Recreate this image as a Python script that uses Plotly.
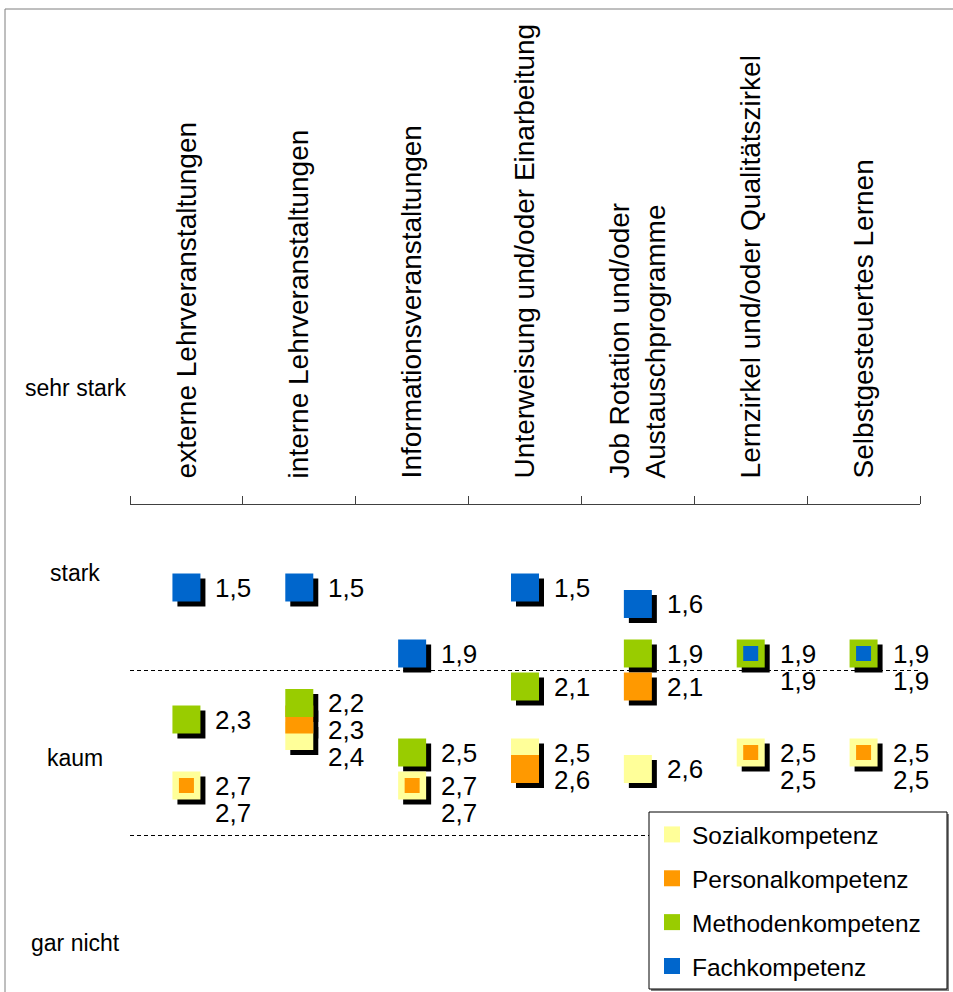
import plotly.graph_objects as go

# Weiterbildungsformen (x categories) and mean ratings per competence area
CATEGORIES = [
    "externe Lehrveranstaltungen",
    "interne Lehrveranstaltungen",
    "Informationsveranstaltungen",
    "Unterweisung und/oder Einarbeitung",
    "Job Rotation und/oder<br>Austauschprogramme",
    "Lernzirkel und/oder Qualitätszirkel",
    "Selbstgesteuertes Lernen",
]
SOZIAL = [2.7, 2.4, 2.7, 2.5, 2.6, 2.5, 2.5]
PERSONAL = [2.7, 2.3, 2.7, 2.6, 2.1, 2.5, 2.5]
METHODEN = [2.3, 2.2, 2.5, 2.1, 1.9, 1.9, 1.9]
FACH = [1.5, 1.5, 1.9, 1.5, 1.6, 1.9, 1.9]
LEVEL_LABELS = ["sehr stark", "stark", "kaum", "gar nicht"]

FONT = "Liberation Sans, Arial, sans-serif"
W, H = 953, 992
ML, MR, MT, MB = 130, 28, 505, 0
PW, PH = W - ML - MR, H - MT - MB
SHADOW = 5            # shadow offset in px
PX_PER_UNIT = 165.0   # vertical scale of the rating axis
Y_TOP = 1.0
Y_BOTTOM = Y_TOP + (PH - SHADOW) / PX_PER_UNIT
BIG, SMALL = 28, 15

series = [
    ("Sozialkompetenz", SOZIAL, "#FFFF99", None),
    ("Personalkompetenz", PERSONAL, "#FF9900", SOZIAL),
    ("Methodenkompetenz", METHODEN, "#99CC00", None),
    ("Fachkompetenz", FACH, "#0066CC", METHODEN),
]


def sizes_for(values, under):
    # a marker sitting exactly on another one is drawn smaller, nested inside it
    if under is None:
        return [BIG] * len(values)
    return [SMALL if v == u else BIG for v, u in zip(values, under)]


def px_x(px):
    return (px - ML) / PW


def px_y(py):
    return (H - MB - py) / PH


fig = go.Figure()

# shadows first (on the shifted subplot x/y), then the coloured markers (x2/y2)
for name, vals, color, under in series:
    fig.add_trace(go.Scatter(
        x=CATEGORIES, y=vals, mode="markers", xaxis="x", yaxis="y",
        marker=dict(symbol="square", size=sizes_for(vals, under), color="#000000",
                    opacity=1, line=dict(width=0)),
        showlegend=False, hoverinfo="skip", cliponaxis=False,
    ))

for i, (name, vals, color, under) in enumerate(series):
    fig.add_trace(go.Scatter(
        x=CATEGORIES, y=vals, mode="markers", xaxis="x2", yaxis="y2", name=name,
        legendgroup=f"g{i}",
        marker=dict(symbol="square", size=sizes_for(vals, under), color=color,
                    opacity=1, line=dict(width=0)),
        cliponaxis=False,
    ))

# value labels, stacked downward when they would collide
LABEL_GAP = 27 / PX_PER_UNIT
annotations = []
for ci, cat in enumerate(CATEGORIES):
    items = sorted(
        [(s[1][ci], k) for k, s in enumerate(series)],
        key=lambda t: (t[0], -t[1]),
    )
    prev = None
    for v, k in items:
        ly = v if prev is None else max(v, prev + LABEL_GAP)
        prev = ly
        annotations.append(dict(
            x=cat, y=ly, xref="x2", yref="y2", text=f"{v:.1f}".replace(".", ","),
            showarrow=False, xanchor="left", yanchor="middle", xshift=27,
            font=dict(family=FONT, size=26, color="#000000"),
        ))

# verbal scale on the left side
for i, lab in enumerate(LEVEL_LABELS):
    py = 388 + i * 185
    annotations.append(dict(
        x=px_x(75), y=px_y(py), xref="paper", yref="paper",
        text=lab, showarrow=False, xanchor="center", yanchor="middle",
        font=dict(family=FONT, size=23, color="#000000"),
    ))

LEG_L, LEG_T, LEG_R, LEG_B = 649, 812, 947, 989
shapes = [
    # outer frame
    dict(type="rect", xref="paper", yref="paper",
         x0=px_x(5), x1=1.2, y0=-0.2, y1=px_y(9),
         line=dict(color="#7f7f7f", width=1), fillcolor="rgba(0,0,0,0)", layer="below"),
    # legend box with a small drop shadow
    dict(type="rect", xref="paper", yref="paper",
         x0=px_x(LEG_L + 2), x1=px_x(LEG_R + 2), y0=px_y(LEG_B + 2), y1=px_y(LEG_T + 2),
         line=dict(width=0), fillcolor="#808080", layer="above"),
    dict(type="rect", xref="paper", yref="paper",
         x0=px_x(LEG_L), x1=px_x(LEG_R), y0=px_y(LEG_B), y1=px_y(LEG_T),
         line=dict(color="#000000", width=1), fillcolor="#ffffff", layer="above"),
]

fig.update_layout(
    width=W, height=H,
    margin=dict(l=ML, r=MR, t=MT, b=MB, autoexpand=False),
    paper_bgcolor="#ffffff", plot_bgcolor="rgba(0,0,0,0)",
    font=dict(family=FONT, color="#000000"),
    separators=",.",
    showlegend=True,
    legend=dict(
        x=px_x(652), y=px_y(812), xanchor="left", yanchor="top",
        bgcolor="rgba(0,0,0,0)", borderwidth=0,
        font=dict(family=FONT, size=24.5, color="#000000"),
        traceorder="grouped", tracegroupgap=9, itemsizing="trace",
    ),
    xaxis=dict(domain=[SHADOW / PW, 1], anchor="y", type="category", visible=False,
               range=[-0.5, len(CATEGORIES) - 0.5]),
    yaxis=dict(domain=[0, 1 - SHADOW / PH], anchor="x", visible=False,
               range=[Y_BOTTOM, Y_TOP]),
    xaxis2=dict(domain=[0, 1 - SHADOW / PW], anchor="y2", type="category",
                range=[-0.5, len(CATEGORIES) - 0.5],
                side="top", showline=True, linecolor="#404040", linewidth=1,
                ticks="outside", ticklen=8, tickcolor="#404040", tickson="boundaries",
                tickangle=-90, ticklabelstandoff=20,
                tickfont=dict(family=FONT, size=28, color="#000000"),
                showgrid=False, zeroline=False),
    yaxis2=dict(domain=[SHADOW / PH, 1], anchor="x2", range=[Y_BOTTOM, Y_TOP],
                tickvals=[2, 3], showticklabels=False, ticks="",
                showgrid=True, gridcolor="#000000", gridwidth=1, griddash="4px,3px",
                zeroline=False, showline=False),
    annotations=annotations,
    shapes=shapes,
)

fig.write_html("out.html")
